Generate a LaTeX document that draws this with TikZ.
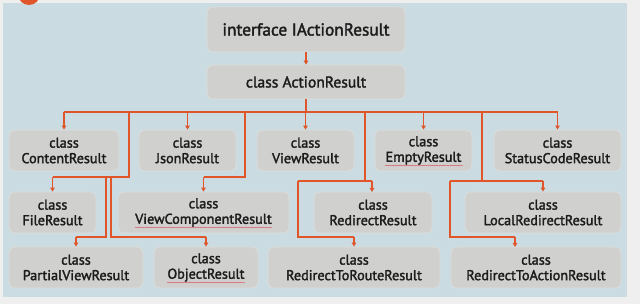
\documentclass[tikz,border=0pt]{standalone}
\usepackage{fontspec}
\setmainfont{PT Sans}[FakeBold=2]
\usetikzlibrary{arrows.meta,decorations.pathmorphing}
\definecolor{outbg}{HTML}{EFEFEF}
\definecolor{panel}{HTML}{CADCE2}
\definecolor{boxfill}{HTML}{D0D0CE}
\definecolor{boxedge}{HTML}{DDDDDB}
\definecolor{orng}{HTML}{E0552A}
\definecolor{txt}{HTML}{1C1C1C}
\definecolor{squigc}{HTML}{D9505A}
\tikzset{
  box/.style={rounded corners=6pt, fill=boxfill, draw=boxedge, line width=0.8pt,
    align=center, inner sep=0pt, text=txt, font=\fontsize{14.2}{15.5}\selectfont},
  bigbox/.style={box, font=\fontsize{17.3}{19}\selectfont},
  conn/.style={draw=orng, line width=1.7pt},
  arr/.style={conn, -{Triangle[width=4.5pt,length=4pt]}},
  squig/.style={draw=squigc, line width=0.35pt, decorate,
    decoration={snake, segment length=2.2pt, amplitude=0.45pt}}
}
\begin{document}
\begin{tikzpicture}[x=1pt,y=-1pt]
\useasboundingbox (0,0) rectangle (640,304);
\fill[outbg] (0,0) rectangle (640,304);
\fill[panel] (3,3) rectangle (627,297);
\begin{scope}
\clip (0,0) rectangle (640,304);
\fill[orng] (29,-6) circle (11);
\end{scope}

% boxes
\node[bigbox, minimum width=198pt, minimum height=45pt] (iface) at (306,29.5) {interface IActionResult};
\node[box, font=\fontsize{15.6}{17}\selectfont, minimum width=198pt, minimum height=34pt] (ar) at (306,82) {class ActionResult};

\node[box, minimum width=110pt, minimum height=41pt] (content) at (64,150.5) {class\\ContentResult};
\node[box, minimum width=97pt, minimum height=41pt] (json) at (187.5,150.5) {class\\JsonResult};
\node[box, minimum width=97pt, minimum height=41pt] (view) at (305.5,150.5) {class\\ViewResult};
\node[box, minimum width=97pt, minimum height=41pt] (empty) at (423.5,150.5) {class\\EmptyResult};
\node[box, minimum width=127pt, minimum height=41pt] (status) at (557.5,150.5) {class\\StatusCodeResult};

\node[box, minimum width=87pt, minimum height=41pt] (file) at (52.5,212.5) {class\\FileResult};
\node[box, minimum width=171pt, minimum height=41pt] (vcomp) at (203.5,212.5) {class\\ViewComponentResult};
\node[box, minimum width=118pt, minimum height=41pt] (redir) at (373,212.5) {class\\RedirectResult};
\node[box, minimum width=156pt, minimum height=41pt] (local) at (543,212.5) {class\\LocalRedirectResult};

\node[box, minimum width=134pt, minimum height=41pt] (partial) at (76,267.5) {class\\PartialViewResult};
\node[box, minimum width=104pt, minimum height=41pt] (object) at (206,267.5) {class\\ObjectResult};
\node[box, minimum width=172pt, minimum height=41pt] (route) at (354,267.5) {class\\RedirectToRouteResult};
\node[box, minimum width=170pt, minimum height=41pt] (action) at (536,267.5) {class\\RedirectToActionResult};

% spell-check squiggles
\draw[squig] (135,227.5) -- (272,227.5);
\draw[squig] (167,282.5) -- (245,282.5);
\draw[squig] (385,165.5) -- (463,165.5);

% coordinates
\coordinate (busy) at (0,112);
\coordinate (ya) at (0,177);
\coordinate (yb) at (0,181);
\coordinate (yc) at (0,237);
\coordinate (d1) at (129,112);
\coordinate (d2) at (245,112);
\coordinate (d3) at (365,112);
\coordinate (d4) at (482,112);
\coordinate (s1) at (106,177);
\coordinate (s2) at (111,177);
\coordinate (s3) at (298,181);
\coordinate (s4) at (450,181);

% connectors
\draw[arr] (iface.south) -- (ar.north);
\draw[conn] (ar.south) -- (ar.south |- busy);
\draw[conn] (content.north |- busy) -- (status.north |- busy);
\foreach \n in {content,json,view,empty,status}
  \draw[arr] (\n.north |- busy) -- (\n.north);

% FileResult / PartialViewResult / ObjectResult
\draw[conn] (d1) -- (d1 |- ya) -- (file.north |- ya);
\draw[arr] (file.north |- ya) -- (file.north);
\draw[conn] (s1) -- (s1 |- yc) -- (partial.north |- yc);
\draw[arr] (partial.north |- yc) -- (partial.north);
\draw[conn] (s2) -- (s2 |- yc) -- (object.north |- yc);
\draw[arr] (object.north |- yc) -- (object.north);

% ViewComponentResult
\draw[conn] (d2) -- (d2 |- ya) -- (vcomp.north |- ya);
\draw[arr] (vcomp.north |- ya) -- (vcomp.north);

% RedirectResult / RedirectToRouteResult
\draw[conn] (d3) -- (d3 |- yb);
\draw[conn] (s3) -- (372,181);
\draw[arr] (372,181) -- (372,192);
\draw[conn] (s3) -- (s3 |- yc) -- (route.north |- yc);
\draw[arr] (route.north |- yc) -- (route.north);

% LocalRedirectResult / RedirectToActionResult
\draw[conn] (d4) -- (d4 |- yb);
\draw[conn] (s4) -- (local.north |- yb);
\draw[arr] (local.north |- yb) -- (local.north);
\draw[conn] (s4) -- (s4 |- yc) -- (515,237);
\draw[arr] (515,237) -- (515,247);
\end{tikzpicture}
\end{document}
